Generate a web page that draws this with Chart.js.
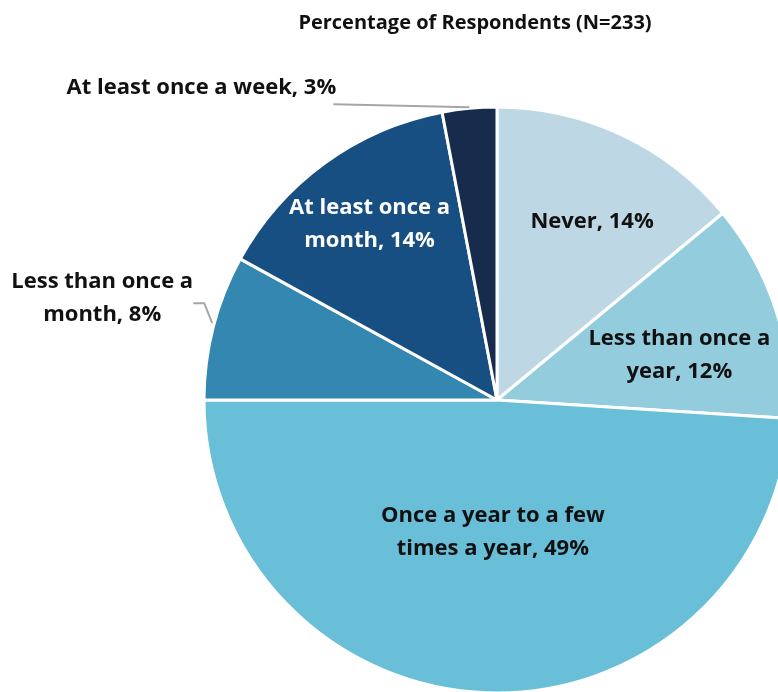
<!DOCTYPE html>
<html>
<head>
<meta charset="utf-8">
<script src="https://cdn.jsdelivr.net/npm/chart.js@4"></script>
<style>
  html, body { margin: 0; padding: 0; background: #fff; overflow: hidden; }
  #wrap { position: relative; width: 778px; height: 692px; }
</style>
</head>
<body>
<div id="wrap"><canvas id="pieChart" width="778" height="692"></canvas></div>
<script>
// chart data
const titleText = 'Percentage of Respondents (N=233)';
const categories = [
  'Never',
  'Less than once a year',
  'Once a year to a few times a year',
  'Less than once a month',
  'At least once a month',
  'At least once a week'
];
const percentages = [14, 12, 49, 8, 14, 3];
const labelLines = [
  ['Never, 14%'],
  ['Less than once a', 'year, 12%'],
  ['Once a year to a few', 'times a year, 49%'],
  ['Less than once a', 'month, 8%'],
  ['At least once a', 'month, 14%'],
  ['At least once a week, 3%']
];
const sliceColors = ['#BDD7E4', '#93CDDD', '#69BED8', '#3487B1', '#174F82', '#172B4C'];

const FONT = 'bold 22px "Open Sans", Lato, sans-serif';

// where each label sits: inside (fraction of radius) or outside with a leader line
const labelLayout = [
  { frac: 0.69, dx: 9, dy: 5, color: '#111' },
  { frac: 0.64, dx: 4, dy: 13, color: '#111' },
  { frac: 0.45, dx: 0, dy: 0, color: '#111' },
  { outside: true, leader: [[-1, -4], [-9, -24], [-20, -24]], text: [-111, -29], color: '#111' },
  { frac: 0.74, dx: 0, dy: 0, color: '#fff' },
  { outside: true, leader: [[0, -1], [-136, -4]], text: [-268, -21], color: '#111' }
];

const pieLabels = {
  id: 'pieLabels',
  afterDatasetsDraw(chart) {
    const ctx = chart.ctx;
    const meta = chart.getDatasetMeta(0);
    ctx.save();
    ctx.font = FONT;
    ctx.textAlign = 'center';
    ctx.textBaseline = 'middle';
    meta.data.forEach(function(arc, i) {
      const p = arc.getProps(['x', 'y', 'startAngle', 'endAngle', 'outerRadius'], true);
      const mid = (p.startAngle + p.endAngle) / 2;
      const lay = labelLayout[i];
      const lines = labelLines[i];
      let cx, cy;
      if (lay.outside) {
        const ex = p.x + Math.cos(mid) * p.outerRadius;
        const ey = p.y + Math.sin(mid) * p.outerRadius;
        ctx.strokeStyle = '#A6A6A6';
        ctx.lineWidth = 2;
        ctx.beginPath();
        lay.leader.forEach(function(pt, k) {
          if (k === 0) ctx.moveTo(ex + pt[0], ey + pt[1]);
          else ctx.lineTo(ex + pt[0], ey + pt[1]);
        });
        ctx.stroke();
        cx = ex + lay.text[0];
        cy = ey + lay.text[1];
      } else {
        const r = p.outerRadius * lay.frac;
        cx = p.x + Math.cos(mid) * r + lay.dx;
        cy = p.y + Math.sin(mid) * r + lay.dy;
      }
      ctx.fillStyle = lay.color;
      const lh = 33;
      lines.forEach(function(line, k) {
        ctx.fillText(line, cx, cy + (k - (lines.length - 1) / 2) * lh);
      });
    });
    // title
    ctx.fillStyle = '#111';
    ctx.font = 'bold 20px "Open Sans", Lato, sans-serif';
    ctx.fillText(titleText, 475, 23);
    ctx.restore();
  }
};

new Chart(document.getElementById('pieChart'), {
  type: 'pie',
  data: {
    labels: categories,
    datasets: [{
      data: percentages,
      backgroundColor: sliceColors,
      borderColor: '#ffffff',
      borderWidth: 3,
      radius: 293
    }]
  },
  options: {
    responsive: false,
    animation: false,
    layout: { padding: { left: 216, top: 108, right: 0, bottom: 0 } },
    plugins: {
      legend: { display: false },
      tooltip: { enabled: false },
      title: { display: false }
    }
  },
  plugins: [pieLabels]
});
</script>
</body>
</html>
